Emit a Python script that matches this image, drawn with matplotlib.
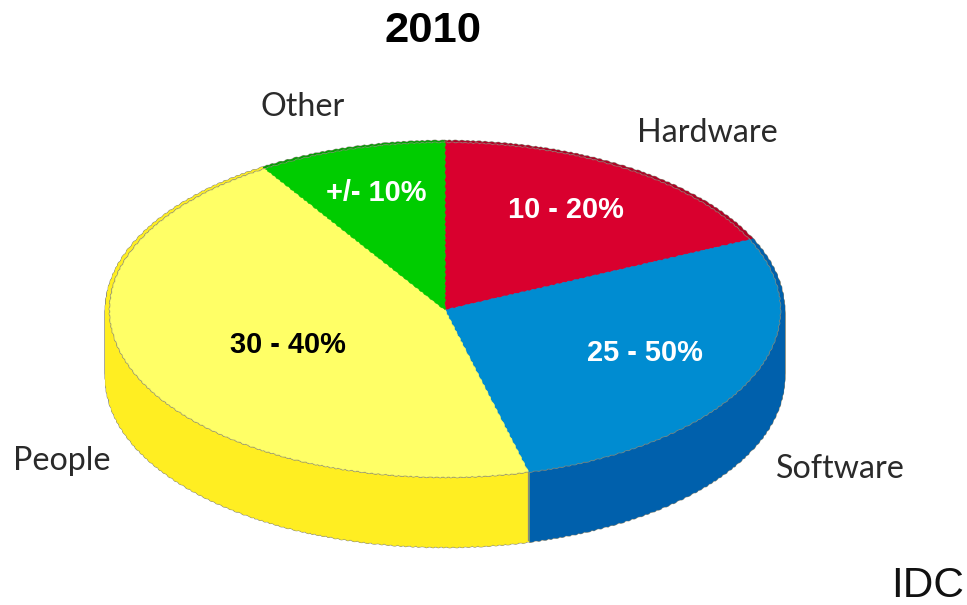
import numpy as np
import matplotlib
matplotlib.use('Agg')
import matplotlib.pyplot as plt

W, H = 967, 605

# shares read around the pie, clockwise from twelve o'clock
segments = ['Hardware', 'Software', 'People', 'Other']
shares = [18.1, 27.9, 45.0, 9.0]
ranges = ['10 - 20%', '25 - 50%', '30 - 40%', '+/- 10%']
top_colors = ['#D9002E', '#008CD1', '#FFFF66', '#00CC00']
side_colors = ['#B00025', '#0060AC', '#FFEE22', '#00A000']
range_colors = ['white', 'white', 'black', 'white']

range_pos = [(566, 208), (645, 351), (288, 343), (376, 191)]
segment_pos = [(707, 132), (840, 468), (62, 460), (303, 106)]

EDGE = '#8A8A7A'
layers = 68
ry_px = 167.0

fig = plt.figure(figsize=(W / 100, H / 100), dpi=100)
ax = fig.add_axes([110 / W, (H - 477) / H, 670 / W, 334 / H])


def draw_pie(colors, radius, center, edge, lw):
    wedges, _ = ax.pie(shares, colors=colors, startangle=90, counterclock=False, radius=radius,
                       center=center, wedgeprops={'edgecolor': edge, 'linewidth': lw, 'clip_on': False})
    for w in wedges:
        # slightly uneven outline, like a low resolution clip-art pie
        w.set_sketch_params(scale=0.45, length=7, randomness=2)
    return wedges


# grey stack first so a thin outline is left around the rim
for i in range(layers, -1, -1):
    draw_pie([EDGE] * 4, 1.012, (0, -i / ry_px), EDGE, 1.4)

for i in range(layers, -1, -1):
    wedges = draw_pie(side_colors, 1.012, (0, -i / ry_px), 'none', 0)
    for w, c in zip(wedges, side_colors):
        w.set_edgecolor(c)
        w.set_linewidth(0.6)

draw_pie([EDGE] * 4, 1.0, (0, 0), EDGE, 1.4)
top = draw_pie(top_colors, 1.0, (0, 0), EDGE, 0)
for w, c in zip(top, top_colors):
    w.set_edgecolor(c)
    w.set_linewidth(0.4)

# seam on the rim where People meets Software
seam = np.deg2rad(90 - 360 * sum(shares[:2]) / sum(shares))
ax.plot([np.cos(seam)] * 2, [np.sin(seam), np.sin(seam) - layers / ry_px], color=EDGE, lw=0.9, clip_on=False)

ax.set_aspect('auto')
ax.set_xlim(-1, 1)
ax.set_ylim(-1, 1)
ax.axis('off')


def put_text(x, y, s, **kw):
    fig.text(x / W, 1 - y / H, s, ha='center', va='center', **kw)


for (x, y), s, c in zip(range_pos, ranges, range_colors):
    put_text(x, y + 2, s, color=c, fontsize=20.9, fontweight='bold', family='Liberation Sans')

for (x, y), s in zip(segment_pos, segments):
    put_text(x, y + 1, s, color='#2A2A2A', fontsize=23.2, family='Lato')

put_text(433, 31, '2010', color='black', fontsize=31.3, fontweight='bold', family='Liberation Sans')
put_text(928, 586, 'IDC', color='#111111', fontsize=30.5, family='Liberation Sans')

fig.savefig('out.png', dpi=100)
